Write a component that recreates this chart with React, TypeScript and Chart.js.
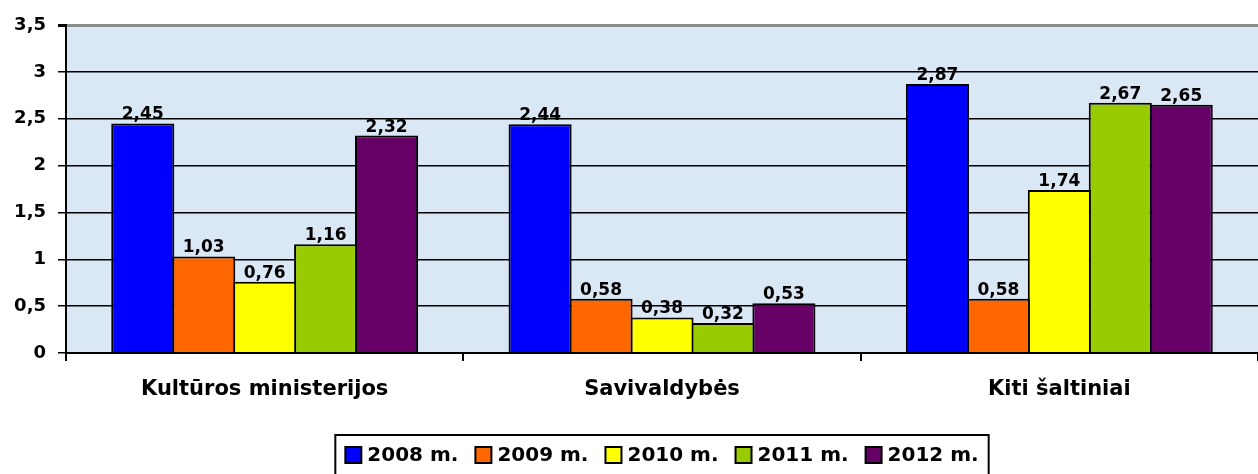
import React, { useEffect, useRef } from "react";
import { Chart, registerables } from "chart.js";

Chart.register(...registerables);

const categories = ["Kultūros ministerijos", "Savivaldybės", "Kiti šaltiniai"];
const seriesLabels = ["2008 m.", "2009 m.", "2010 m.", "2011 m.", "2012 m."];
const values2008 = [2.45, 2.44, 2.87];
const values2009 = [1.03, 0.58, 0.58];
const values2010 = [0.76, 0.38, 1.74];
const values2011 = [1.16, 0.32, 2.67];
const values2012 = [2.32, 0.53, 2.65];
const seriesColors = ["#0000ff", "#ff6600", "#ffff00", "#99cc00", "#660066"];
const yTicks = [0, 0.5, 1, 1.5, 2, 2.5, 3, 3.5];

const FONT = "'DejaVu Sans', 'Liberation Sans', Arial, sans-serif";

const fmt = (v: number) => String(v).replace(".", ",");

const bgPlugin = {
  id: "plotBg",
  beforeDraw(chart: any) {
    const { ctx, chartArea } = chart;
    ctx.save();
    ctx.fillStyle = "#dae7f5";
    ctx.fillRect(chartArea.left, chartArea.top, chartArea.right - chartArea.left, chartArea.bottom - chartArea.top);
    ctx.restore();
  },
};

const labelPlugin = {
  id: "barLabels",
  afterDatasetsDraw(chart: any) {
    const { ctx } = chart;
    ctx.save();
    ctx.font = `bold 17px ${FONT}`;
    ctx.fillStyle = "#000";
    ctx.textAlign = "center";
    ctx.textBaseline = "alphabetic";
    chart.data.datasets.forEach((ds: any, i: number) => {
      const meta = chart.getDatasetMeta(i);
      meta.data.forEach((el: any, j: number) => {
        ctx.fillText(fmt(ds.data[j]), el.x, el.y - 4);
      });
    });
    ctx.restore();
  },
};

const legendPlugin = {
  id: "boxLegend",
  afterDraw(chart: any) {
    const { ctx, chartArea } = chart;
    ctx.save();
    ctx.font = `bold 20px ${FONT}`;
    const box = 16;
    const gapBoxText = 6;
    const itemGap = 17;
    const widths = chart.data.datasets.map((ds: any) => ctx.measureText(ds.label).width);
    const total = widths.reduce((a: number, w: number) => a + box + gapBoxText + w, 0) + itemGap * (widths.length - 1);
    const cx = (chartArea.left + chartArea.right) / 2;
    const cy = 455;
    let x = cx - total / 2;
    ctx.strokeStyle = "#000";
    ctx.lineWidth = 2;
    ctx.strokeRect(x - 10, 435, total + 20, 60);
    ctx.textBaseline = "middle";
    ctx.textAlign = "left";
    chart.data.datasets.forEach((ds: any, i: number) => {
      ctx.fillStyle = ds.backgroundColor;
      ctx.fillRect(x, cy - box / 2, box, box);
      ctx.lineWidth = 2;
      ctx.strokeStyle = "#000";
      ctx.strokeRect(x, cy - box / 2, box, box);
      ctx.fillStyle = "#000";
      ctx.fillText(ds.label, x + box + gapBoxText, cy + 1);
      x += box + gapBoxText + widths[i] + itemGap;
    });
    ctx.restore();
  },
};

export default function App() {
  const ref = useRef<HTMLCanvasElement>(null);
  useEffect(() => {
    if (!ref.current) return;
    const allValues = [values2008, values2009, values2010, values2011, values2012];
    const chart = new Chart(ref.current, {
      type: "bar",
      data: {
        labels: categories,
        datasets: allValues.map((vals, i) => ({
          label: seriesLabels[i],
          data: vals,
          backgroundColor: seriesColors[i],
          borderColor: "#000",
          borderWidth: 2,
          borderSkipped: "bottom",
          barPercentage: 1.035,
          categoryPercentage: 0.767,
        })),
      },
      options: {
        animation: false,
        responsive: false,
        layout: { padding: { top: 25, right: 0, bottom: 0, left: 0 } },
        plugins: {
          legend: { display: false },
          tooltip: { enabled: false },
        },
        scales: {
          x: {
            afterFit(axis: any) {
              axis.height = 121;
            },
            border: { color: "#000", width: 2, z: 1 },
            grid: {
              drawOnChartArea: false,
              drawTicks: true,
              tickLength: 8,
              color: "#000",
              lineWidth: 2,
            },
            ticks: {
              color: "#000",
              padding: 16,
              font: { family: FONT, size: 21, weight: "bold" },
            },
          },
          y: {
            min: 0,
            max: 3.5,
            afterFit(axis: any) {
              axis.width = 66;
            },
            afterBuildTicks(axis: any) {
              axis.ticks = yTicks.map((v) => ({ value: v }));
            },
            border: { color: "#000", width: 2 },
            grid: {
              color: (c: any) => (c.tick && c.tick.value === 3.5 ? "#8c8c8c" : "#000"),
              lineWidth: (c: any) => (c.tick && c.tick.value === 3.5 ? 3 : 1.5),
              tickColor: "#000",
              tickLength: 8,
            },
            ticks: {
              color: "#000",
              padding: 12,
              font: { family: FONT, size: 18, weight: "bold" },
              callback: (v: any) => fmt(Number(v)),
            },
          },
        },
      },
      plugins: [bgPlugin, labelPlugin, legendPlugin],
    });
    return () => chart.destroy();
  }, []);
  return (
    <div style={{ position: "absolute", left: 0, top: 0, width: 1258, height: 474, background: "#fff" }}>
      <canvas ref={ref} width={1258} height={474} />
    </div>
  );
}
